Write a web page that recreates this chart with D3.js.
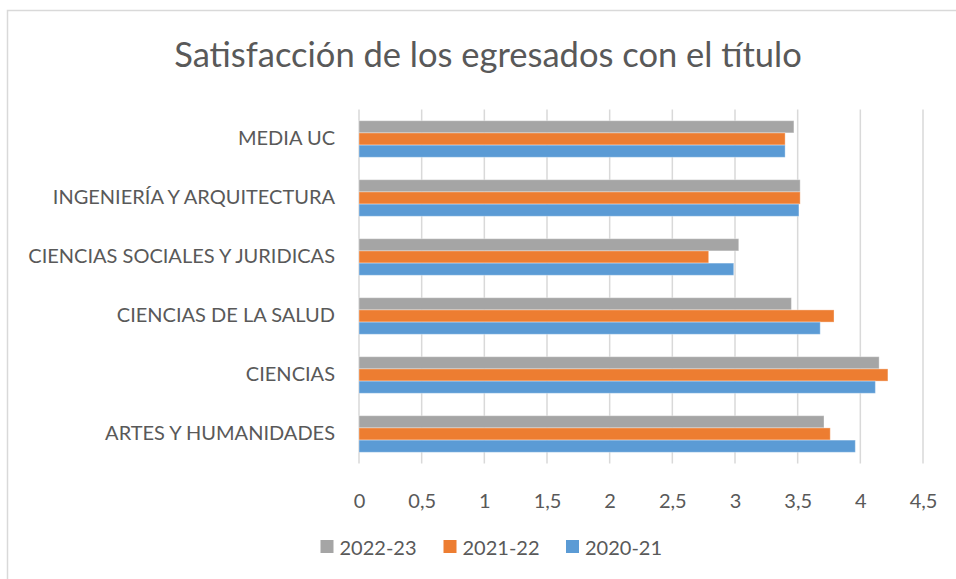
<!DOCTYPE html>
<html>
<head>
    <meta charset="utf-8">
    <title>Satisfacción de los egresados con el título</title>
    <script src="https://d3js.org/d3.v7.min.js"></script>
    <style>
        body { margin: 0; background: #fff; }
        text { font-family: Lato, "Open Sans", sans-serif; fill: #595959; }
    </style>
</head>
<body>
    <svg id="chart" width="956" height="579"></svg>

    <script>
        // categories top to bottom, as in the picture
        const categories = ["MEDIA UC", "INGENIERÍA Y ARQUITECTURA", "CIENCIAS SOCIALES Y JURIDICAS",
            "CIENCIAS DE LA SALUD", "CIENCIAS", "ARTES Y HUMANIDADES"];
        const seriesNames = ["2022-23", "2021-22", "2020-21"];
        const values2223 = [3.47, 3.52, 3.03, 3.45, 4.15, 3.71];
        const values2122 = [3.40, 3.52, 2.79, 3.79, 4.22, 3.76];
        const values2021 = [3.40, 3.51, 2.99, 3.68, 4.12, 3.96];
        const xTicks = [0, 0.5, 1, 1.5, 2, 2.5, 3, 3.5, 4, 4.5];
        const colors = ["#A5A5A5", "#ED7D31", "#5B9BD5"];

        const series = [values2223, values2122, values2021];

        const svg = d3.select("svg#chart");
        const margin = { top: 109.5, right: 33, bottom: 115.5, left: 359 };
        const width = +svg.attr("width") - margin.left - margin.right;
        const height = +svg.attr("height") - margin.top - margin.bottom;

        // outer chart border (right and bottom fall off the picture)
        svg.append("rect")
            .attr("x", 7.5).attr("y", 10.5)
            .attr("width", 960).attr("height", 580)
            .attr("fill", "none")
            .attr("stroke", "#D9D9D9")
            .attr("stroke-width", 1.5);

        svg.append("text")
            .attr("x", 488)
            .attr("y", 67)
            .attr("text-anchor", "middle")
            .style("font-size", "34.5px")
            .text("Satisfacción de los egresados con el título");

        const x = d3.scaleLinear().domain([0, 4.5]).range([0, width]);
        const y = d3.scaleBand().domain(categories).range([0, height]).paddingInner(0.38).paddingOuter(0.19);
        const ySub = d3.scaleBand().domain(seriesNames).range([0, y.bandwidth()]);

        const g = svg.append("g").attr("transform", "translate(" + margin.left + "," + margin.top + ")");

        // vertical gridlines
        g.selectAll(".grid")
            .data(xTicks)
            .enter().append("line")
            .attr("class", "grid")
            .attr("x1", d => x(d)).attr("x2", d => x(d))
            .attr("y1", 0).attr("y2", height)
            .attr("stroke", "#D9D9D9")
            .attr("stroke-width", 1.5);

        // bars
        series.forEach((vals, si) => {
            g.selectAll(".bar" + si)
                .data(vals)
                .enter().append("rect")
                .attr("class", "bar" + si)
                .attr("x", 0)
                .attr("y", (d, i) => y(categories[i]) + ySub(seriesNames[si]))
                .attr("width", d => x(d))
                .attr("height", ySub.bandwidth())
                .attr("fill", colors[si])
                .attr("stroke", "rgba(255,255,255,0.35)")
                .attr("stroke-width", 1);
        });

        // x axis labels
        const xAxis = g.append("g")
            .attr("transform", "translate(0," + height + ")")
            .call(d3.axisBottom(x).tickValues(xTicks).tickSize(0).tickPadding(30)
                .tickFormat(d => String(d).replace(".", ",")));
        xAxis.select(".domain").remove();
        xAxis.selectAll("text").style("font-size", "20px").attr("fill", "#595959");

        // y axis labels
        const yAxis = g.append("g")
            .call(d3.axisLeft(y).tickSize(0).tickPadding(24));
        yAxis.select(".domain").remove();
        yAxis.selectAll("text").style("font-size", "20px").attr("fill", "#595959");

        // legend
        const legendX = [320.5, 443.5, 566];
        const legend = svg.selectAll(".legend")
            .data(seriesNames)
            .enter().append("g")
            .attr("class", "legend")
            .attr("transform", (d, i) => "translate(" + legendX[i] + ",540)");

        legend.append("rect")
            .attr("width", 13).attr("height", 13)
            .attr("fill", (d, i) => colors[i]);

        legend.append("text")
            .attr("x", 19)
            .attr("y", 15)
            .style("font-size", "20px")
            .text(d => d);
    </script>
</body>
</html>
